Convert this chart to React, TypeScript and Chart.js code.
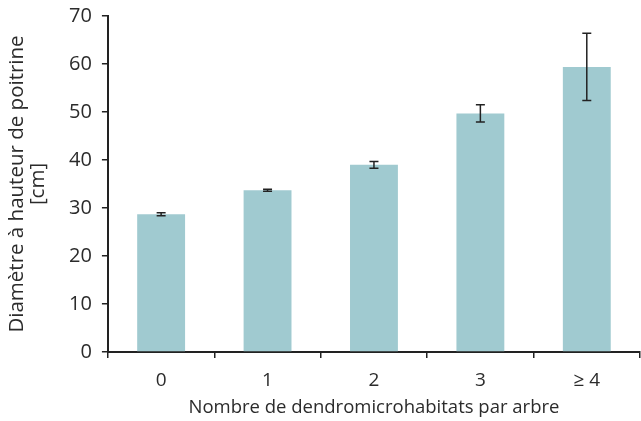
import React, { useEffect, useRef } from "react";
import { Chart, registerables } from "chart.js";

Chart.register(...registerables);

const categories = ["0", "1", "2", "3", "≥ 4"];
const meanValues = [28.7, 33.7, 39.0, 49.7, 59.4];
const errorValues = [0.3, 0.2, 0.7, 1.8, 7.0];
const yTicks = [0, 10, 20, 30, 40, 50, 60, 70];

const FONT = "'Open Sans', 'Noto Sans', sans-serif";
const TEXT = "#2b2b2b";

const errorBarPlugin = {
  id: "errorBars",
  afterDatasetsDraw(chart: any) {
    const ctx = chart.ctx;
    const meta = chart.getDatasetMeta(0);
    const yScale = chart.scales.y;
    ctx.save();
    ctx.strokeStyle = "#222";
    ctx.lineWidth = 1.5;
    meta.data.forEach((bar: any, i: number) => {
      const v = meanValues[i];
      const e = errorValues[i];
      const yTop = yScale.getPixelForValue(v + e);
      const yBot = yScale.getPixelForValue(v - e);
      const x = bar.x;
      const cap = 4.5;
      ctx.beginPath();
      ctx.moveTo(x, yTop);
      ctx.lineTo(x, yBot);
      ctx.moveTo(x - cap, yTop);
      ctx.lineTo(x + cap, yTop);
      ctx.moveTo(x - cap, yBot);
      ctx.lineTo(x + cap, yBot);
      ctx.stroke();
    });
    ctx.restore();
  },
};

export default function App() {
  const ref = useRef<HTMLCanvasElement>(null);
  useEffect(() => {
    if (!ref.current) return;
    const chart = new Chart(ref.current, {
      type: "bar",
      data: {
        labels: categories,
        datasets: [
          {
            data: meanValues,
            backgroundColor: "#a0cad0",
            borderWidth: 0,
            categoryPercentage: 1,
            barPercentage: 0.45,
          },
        ],
      },
      options: {
        animation: false,
        responsive: true,
        maintainAspectRatio: false,
        layout: { padding: { top: 0, right: 1, left: 6, bottom: 2 } },
        plugins: { legend: { display: false }, tooltip: { enabled: false } },
        scales: {
          x: {
            grid: {
              drawOnChartArea: false,
              drawTicks: true,
              tickLength: 6,
              color: "#222",
              lineWidth: 1.5,
            },
            border: { color: "#222", width: 2 },
            ticks: { color: TEXT, font: { family: FONT, size: 19 }, padding: 11, maxRotation: 0 },
            title: {
              display: true,
              text: "Nombre de dendromicrohabitats par arbre",
              color: TEXT,
              font: { family: FONT, size: 18.5 },
              padding: { top: -6, bottom: 0 },
            },
          },
          y: {
            min: 0,
            max: 70,
            afterBuildTicks(scale: any) {
              scale.ticks = yTicks.map((v) => ({ value: v }));
            },
            afterFit(scale: any) {
              scale.paddingTop = 16;
            },
            grid: {
              drawOnChartArea: false,
              drawTicks: true,
              tickLength: 6,
              color: "#222",
              lineWidth: 1.5,
            },
            border: { color: "#222", width: 2 },
            ticks: { color: TEXT, font: { family: FONT, size: 20 }, padding: 10 },
            title: {
              display: true,
              text: ["Diamètre à hauteur de poitrine", "[cm]"],
              color: TEXT,
              font: { family: FONT, size: 20.5, lineHeight: 1.05 },
              padding: { top: 0, bottom: 10 },
            },
          },
        },
      },
      plugins: [errorBarPlugin],
    });
    return () => chart.destroy();
  }, []);
  return (
    <div style={{ position: "absolute", left: 0, top: 0, width: 641, height: 421, background: "#fff" }}>
      <canvas ref={ref} />
    </div>
  );
}
